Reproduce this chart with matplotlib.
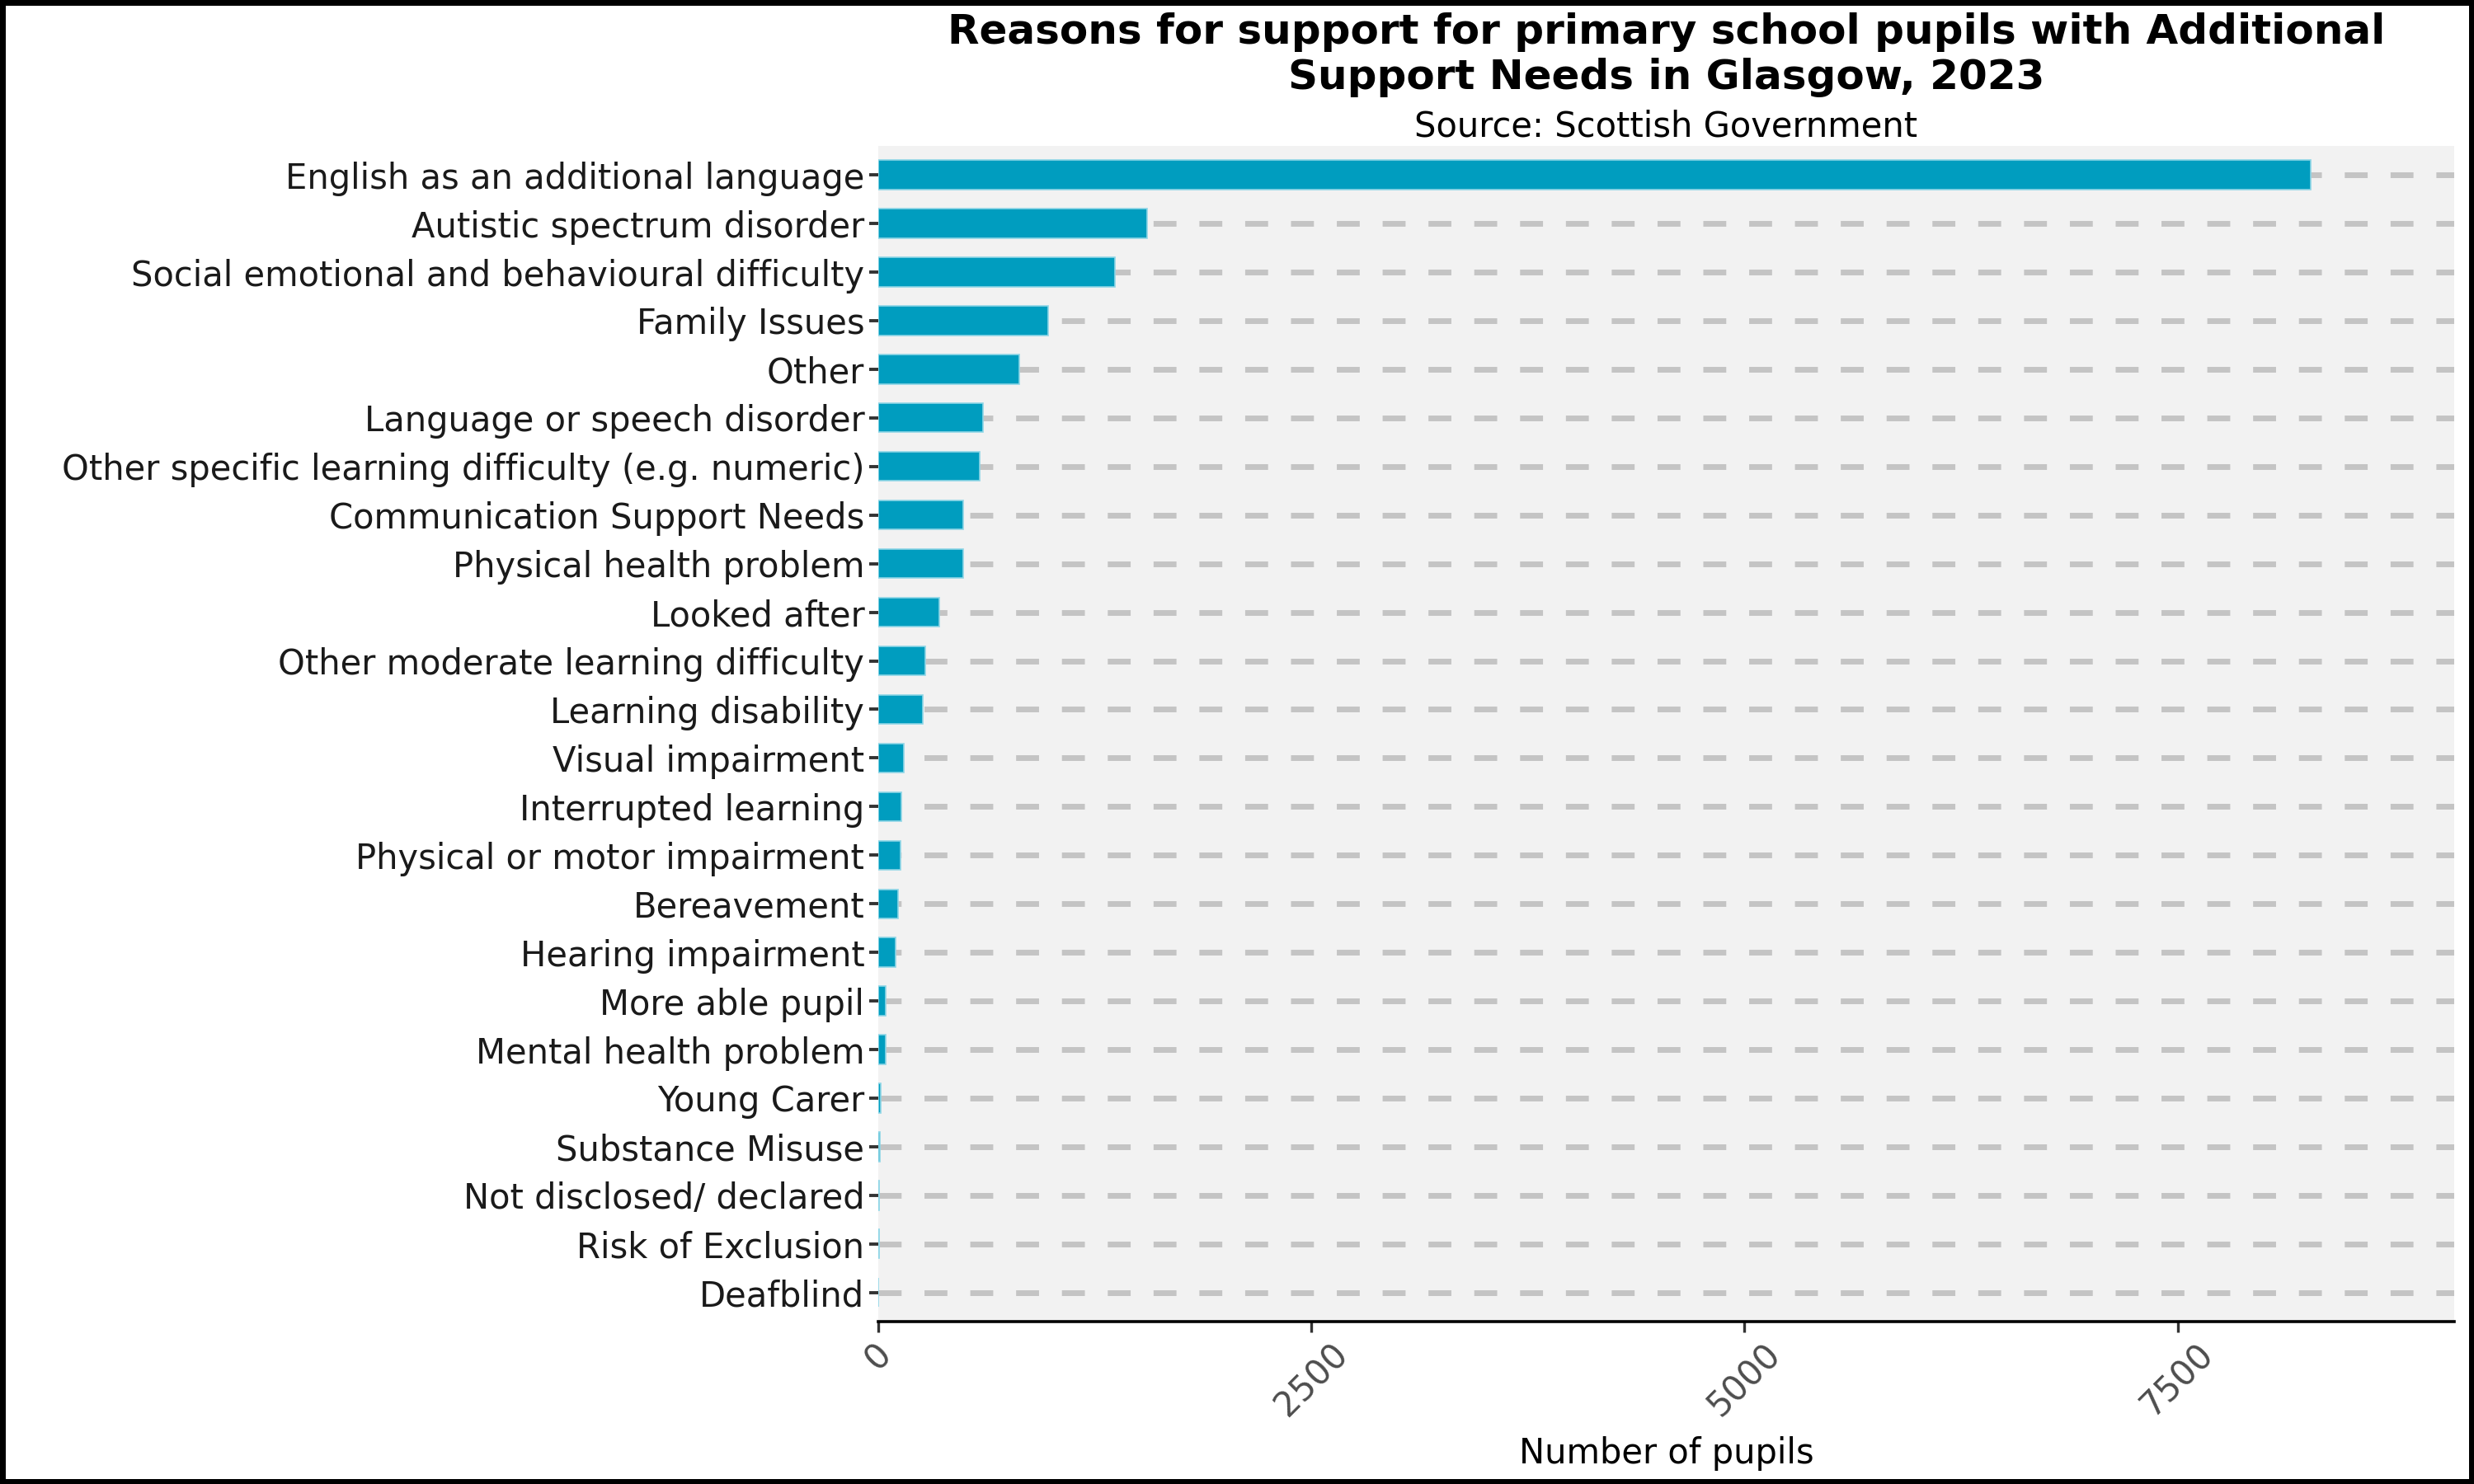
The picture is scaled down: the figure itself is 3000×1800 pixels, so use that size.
import numpy as np
import matplotlib
matplotlib.use("Agg")
import matplotlib.pyplot as plt

# Reasons and pupil counts
reasons = [
    "English as an additional language",
    "Autistic spectrum disorder",
    "Social emotional and behavioural difficulty",
    "Family Issues",
    "Other",
    "Language or speech disorder",
    "Other specific learning difficulty (e.g. numeric)",
    "Communication Support Needs",
    "Physical health problem",
    "Looked after",
    "Other moderate learning difficulty",
    "Learning disability",
    "Visual impairment",
    "Interrupted learning",
    "Physical or motor impairment",
    "Bereavement",
    "Hearing impairment",
    "More able pupil",
    "Mental health problem",
    "Young Carer",
    "Substance Misuse",
    "Not disclosed/ declared",
    "Risk of Exclusion",
    "Deafblind",
]
pupils = [8270, 1551, 1368, 983, 812, 603, 584, 491, 490, 354, 269, 258,
          147, 134, 129, 116, 98, 42, 42, 12, 8, 6, 4, 0]
xticks = [0, 2500, 5000, 7500]

title = "Reasons for support for primary school pupils with Additional\nSupport Needs in Glasgow, 2023"
subtitle = "Source: Scottish Government"

fig = plt.figure(figsize=(15, 9), dpi=200)
fig.patch.set_facecolor("white")
fig.patch.set_edgecolor("black")
fig.patch.set_linewidth(4)

ax = fig.add_axes([0.355, 0.1094, 0.637, 0.7924])
ax.set_facecolor("#f2f2f2")

y = np.arange(len(reasons))
ax.barh(y, pupils, height=0.6, color="#009dbf", edgecolor="#8fd6e6",
        linewidth=0.6, zorder=3)

for yy in y:
    ax.axhline(yy, color="#c4c4c4", lw=2.5, dashes=(4, 4), zorder=1)

ax.set_ylim(len(reasons) - 0.4, -0.6)
ax.set_xlim(0, max(pupils) * 1.1)
ax.set_yticks(y)
ax.set_yticklabels(reasons, fontsize=15, color="#1a1a1a")
ax.set_xticks(xticks)
ax.set_xticklabels([str(v) for v in xticks], fontsize=15, color="#4d4d4d",
                   rotation=45)
ax.tick_params(axis="y", length=4, width=1.4, color="#333333", pad=2)
ax.tick_params(axis="x", length=4.5, width=1.2, color="#333333", pad=2)

for s in ["top", "right", "left"]:
    ax.spines[s].set_visible(False)
ax.spines["bottom"].set_linewidth(1.3)
ax.spines["bottom"].set_color("black")

ax.set_xlabel("Number of pupils", fontsize=15, labelpad=6)

cx = 0.355 + 0.637 / 2
fig.text(cx, 0.963, title, ha="center", va="center", fontsize=18,
         fontweight="bold", linespacing=1.2)
fig.text(cx, 0.915, subtitle, ha="center", va="center", fontsize=15)

fig.savefig("out.png", dpi=200)
